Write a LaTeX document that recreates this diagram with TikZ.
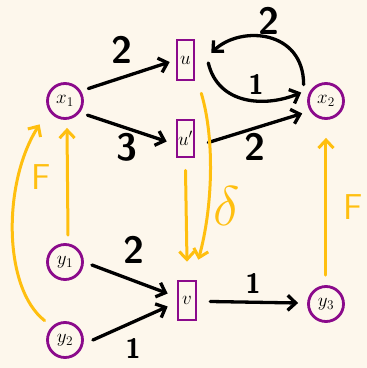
\RequirePackage{fix-cm}
\documentclass[tikz,border=0pt]{standalone}
\usetikzlibrary{arrows.meta}
\definecolor{bg}{HTML}{FDF7EC}
\definecolor{pur}{HTML}{8B0A8B}
\definecolor{yel}{HTML}{FFBF0F}
\begin{document}
\begin{tikzpicture}[x=1pt,y=1pt,
 circ/.style={circle,draw=pur,line width=2.8pt,minimum size=35pt,inner sep=0pt,font=\fontsize{19}{19}\selectfont},
 box/.style={rectangle,draw=pur,line width=2.6pt,inner sep=0pt,minimum width=17pt,font=\fontsize{19}{19}\selectfont},
 arr/.style={line width=3.3pt,line cap=round,-{Straight Barb[length=8pt,width=15pt]}},
 yarr/.style={arr,draw=yel,line width=3pt},
 num/.style={font=\sffamily\bfseries\fontsize{38}{38}\selectfont},
 one/.style={font=\sffamily\bfseries\fontsize{28}{28}\selectfont},
 flab/.style={text=yel,font=\sffamily\fontsize{36}{36}\selectfont}]
\fill[bg] (0,0) rectangle (367,368);
\useasboundingbox (0,0) rectangle (367,368);
% nodes
\node[circ] (x1) at (65,267) {$x_1$};
\node[circ] (x2) at (326,267) {$x_2$};
\node[circ] (y1) at (65,106) {$y_1$};
\node[circ] (y2) at (65,28) {$y_2$};
\node[circ] (y3) at (326,64) {$y_3$};
\node[box,minimum height=40pt] (u) at (185.5,308) {$u$};
\node[box,minimum height=37pt] (up) at (185.5,229.5) {$u'$};
\node[box,minimum height=39pt,minimum width=18pt] (v) at (187,67.5) {$v$};
% black arrows
\draw[arr] ([shift={(7pt,3pt)}]x1.30) -- ([xshift=-6pt,yshift=-2pt]u.west);
\draw[arr] ([shift={(8pt,-2pt)}]x1.-40) -- ([shift={(-9pt,-3pt)}]up.west);
\draw[arr] ([shift={(13pt,-4pt)}]up.east) -- ([shift={(-6pt,-6pt)}]x2.200);
\draw[arr] ([shift={(13pt,-3pt)}]u.east) .. controls +(10,-42) and +(-36,-15) .. ([shift={(-7pt,2pt)}]x2.160);
\draw[arr] ([shift={(-9pt,3pt)}]x2.north west) .. controls +(0,55) and +(29,28) .. ([shift={(16pt,7pt)}]u.east);
\draw[arr] ([shift={(8pt,-3pt)}]y1.east) -- ([shift={(-9pt,7pt)}]v.west);
\draw[arr] ([shift={(9pt,0pt)}]y2.east) -- ([shift={(-9pt,-6pt)}]v.west);
\draw[arr] ([shift={(13pt,-1pt)}]v.east) -- ([shift={(-9pt,1pt)}]y3.west);
% yellow arrows
\draw[yarr] ([shift={(3pt,8pt)}]y1.north) -- ([shift={(2pt,-8pt)}]x1.south);
\draw[yarr] ([shift={(-7pt,6pt)}]y2.135) .. controls +(-42,33) and +(-37,-58) .. ([shift={(-12pt,-10pt)}]x1.225);
\draw[yarr] ([shift={(0pt,10pt)}]y3.north) -- ([shift={(0pt,-18pt)}]x2.south);
\draw[yarr] ([shift={(0pt,-12pt)}]up.south) -- ([shift={(0pt,18pt)}]v.north);
\draw[yarr] ([shift={(6pt,-12pt)}]u.south east) .. controls +(14,-47) and +(14,50) .. ([shift={(1pt,20pt)}]v.north east);
% labels
\node[num] (l1) at (122,318) {2};
\node[num] (l2) at (127,221) {3};
\node[num] (l3) at (269,347) {2};
\node[one] (l4) at (256,284) {1};
\node[num] (l5) at (255,221) {2};
\node[num] (l6) at (134,118) {2};
\node[one] (l7) at (133,20) {1};
\node[one] (l8) at (253,85) {1};
\node[flab] (f1) at (41,191) {F};
\node[flab] (f2) at (353,161) {F};
\node[text=yel,font=\fontsize{56}{56}\selectfont] (d) at (227,162) {$\delta$};
\end{tikzpicture}
\end{document}
